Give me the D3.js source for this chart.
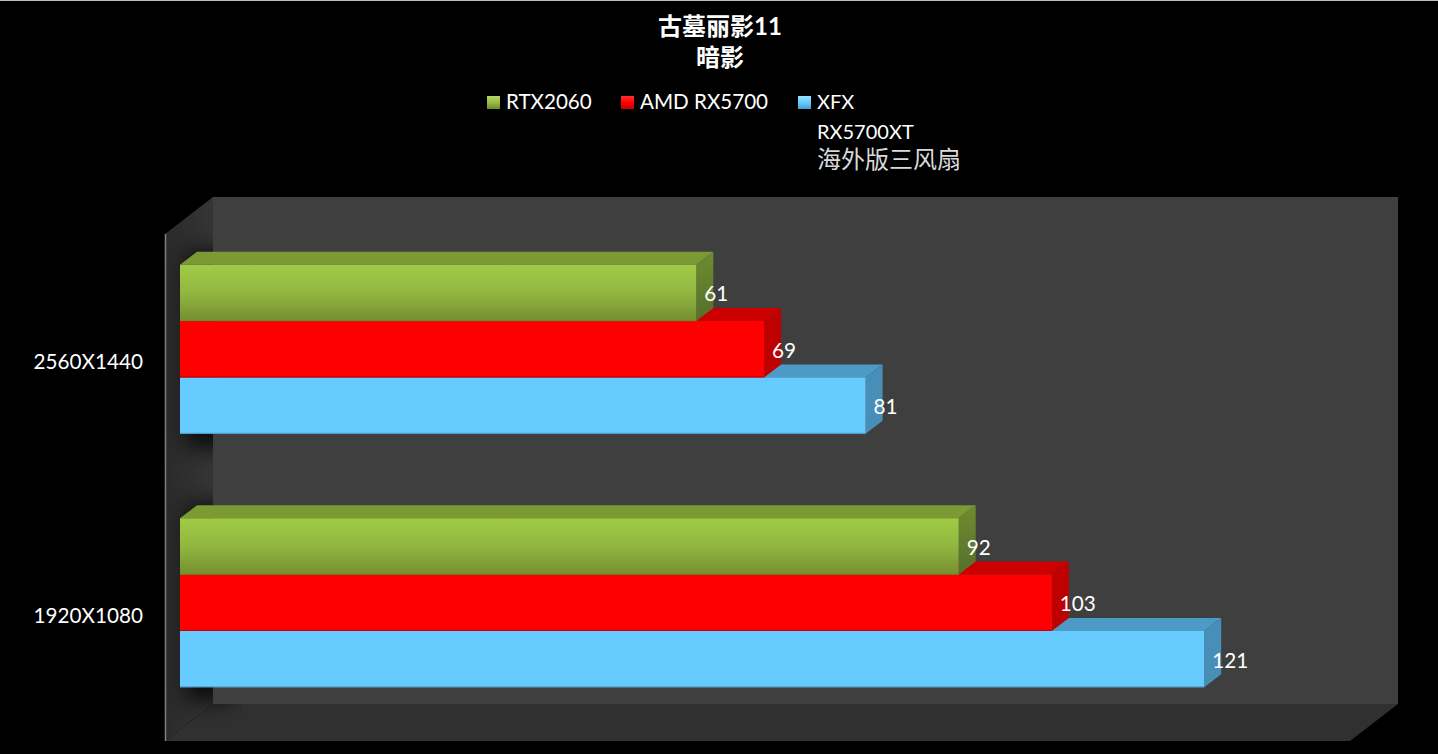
<!DOCTYPE html>
<html>
<head>
<meta charset="utf-8">
<script src="https://d3js.org/d3.v7.min.js"></script>
<style>
  html, body { margin: 0; padding: 0; background: #000; overflow: hidden; }
  svg { display: block; font-family: Lato, "Noto Sans CJK SC", sans-serif; }
</style>
</head>
<body>
<div id="chart"></div>
<script>
const titleLines = ["古墓丽影11", "暗影"];
const categories = ["2560X1440", "1920X1080"];
const seriesNames = ["RTX2060", "AMD RX5700", "XFX RX5700XT 海外版三风扇"];
const rtx2060 = [61, 92];
const rx5700 = [69, 103];
const xfx5700xt = [81, 121];

const width = 1438;
const height = 754;
const depthX = 48, depthY = 37;   // depth of the whole box
const barDX = 17, barDY = 13;     // depth of one bar

// front plane of the box, bars sit a bit behind it
const wallLeft = 165, wallTop = 234, wallBottom = 741, wallWidth = 1185;
const barShiftX = 15, barShiftY = 11.5;

const x = d3.scaleLinear().domain([0, 140])
  .range([wallLeft + barShiftX, wallLeft + barShiftX + wallWidth]);
const y = d3.scaleBand().domain(categories)
  .range([wallTop - barShiftY, wallBottom - barShiftY]);
const inner = d3.scaleBand().domain(seriesNames)
  .range([0, y.bandwidth()]).paddingOuter(0.75).paddingInner(0);

const styles = {
  [seriesNames[0]]: { top: "#7b9a34", side: "url(#greenSide)", front: "url(#greenFront)", key: "url(#greenKey)", edge: "#6f8a2c" },
  [seriesNames[1]]: { top: "#cc0000", side: "#bf0000", front: "#ff0000", key: "url(#redKey)", edge: "#c00000" },
  [seriesNames[2]]: { top: "#4d9ac6", side: "#478eb8", front: "#66ccff", key: "url(#blueKey)", edge: "#4f9fcb" }
};

const svg = d3.select("#chart").append("svg")
  .attr("width", width)
  .attr("height", height);

const defs = svg.append("defs");

function gradient(id, stops, vertical = true) {
  const g = defs.append("linearGradient").attr("id", id)
    .attr("x1", 0).attr("y1", 0)
    .attr("x2", vertical ? 0 : 1).attr("y2", vertical ? 1 : 0);
  stops.forEach(s => g.append("stop").attr("offset", s[0]).attr("stop-color", s[1]));
}
gradient("greenFront", [[0, "#a0cb46"], [0.5, "#92b640"], [1, "#748f30"]]);
gradient("greenSide", [[0, "#6f8c30"], [1, "#55702a"]]);
gradient("greenKey", [[0, "#b4d860"], [0.5, "#9abb45"], [1, "#6f8a2c"]]);
gradient("redKey", [[0, "#ff3030"], [0.5, "#ff0000"], [1, "#c00000"]]);
gradient("blueKey", [[0, "#9adfff"], [0.5, "#66ccff"], [1, "#4a9ccc"]]);
gradient("leftWall", [[0, "#2a2a2a"], [1, "#353535"]], false);

defs.append("filter").attr("id", "blur")
  .attr("x", "-50%").attr("y", "-50%").attr("width", "200%").attr("height", "200%")
  .append("feGaussianBlur").attr("stdDeviation", 11);

defs.append("clipPath").attr("id", "sideClip")
  .append("path")
  .attr("d", `M${wallLeft},${wallTop}L${wallLeft + depthX},${wallTop - depthY}V${wallBottom - depthY}H${wallLeft + depthX + 30}L${wallLeft + depthX + 30},${wallBottom}H${wallLeft}Z`);

// thin light line on the top edge of the picture
svg.append("rect").attr("width", width).attr("height", 1).attr("fill", "#bdbdbd");

// box: back wall, left wall, floor
svg.append("path")
  .attr("d", `M${wallLeft + depthX},${wallTop - depthY}h${wallWidth}V${wallBottom - depthY}H${wallLeft + depthX}Z`)
  .attr("fill", "#3f3f3f");
svg.append("path")
  .attr("d", `M${wallLeft},${wallTop}L${wallLeft + depthX},${wallTop - depthY}V${wallBottom - depthY}L${wallLeft},${wallBottom}Z`)
  .attr("fill", "url(#leftWall)");
svg.append("path")
  .attr("d", `M${wallLeft},${wallBottom}L${wallLeft + depthX},${wallBottom - depthY}h${wallWidth}L${wallLeft + wallWidth},${wallBottom}Z`)
  .attr("fill", "#303030");
svg.append("line")
  .attr("x1", wallLeft + 0.5).attr("x2", wallLeft + 0.5)
  .attr("y1", wallTop).attr("y2", wallBottom)
  .attr("stroke", "#808080").attr("stroke-width", 1.5);

// soft shadow the bars throw on the left wall
svg.append("g").attr("clip-path", "url(#sideClip)")
  .selectAll("rect")
  .data(categories)
  .enter().append("rect")
  .attr("x", x(0) + 6)
  .attr("y", d => y(d) + inner(seriesNames[0]) - 14)
  .attr("width", depthX)
  .attr("height", inner.bandwidth() * 3 + 28)
  .attr("fill", "#000")
  .attr("fill-opacity", 0.8)
  .attr("filter", "url(#blur)");

const seriesData = seriesNames.map((name, i) => ({
  name,
  values: [rtx2060, rx5700, xfx5700xt][i].map((v, j) => ({ category: categories[j], value: v }))
}));

// lower bars first so the upper ones overlap their top faces
const groups = svg.append("g").selectAll("g")
  .data(seriesData.slice().reverse())
  .enter().append("g");

const bars = groups.selectAll("g")
  .data(d => d.values.map(v => ({ ...v, name: d.name })))
  .enter().append("g");

const barTop = d => y(d.category) + inner(d.name);

bars.append("path")
  .attr("d", d => `M${x(0)},${barTop(d)}l${barDX},${-barDY}H${x(d.value) + barDX}l${-barDX},${barDY}Z`)
  .attr("fill", d => styles[d.name].top);
bars.append("path")
  .attr("d", d => `M${x(d.value)},${barTop(d)}l${barDX},${-barDY}v${inner.bandwidth()}l${-barDX},${barDY}Z`)
  .attr("fill", d => styles[d.name].side);
bars.append("rect")
  .attr("x", x(0))
  .attr("y", barTop)
  .attr("width", d => x(d.value) - x(0))
  .attr("height", inner.bandwidth())
  .attr("fill", d => styles[d.name].front);
bars.append("line")
  .attr("x1", x(0))
  .attr("x2", d => x(d.value))
  .attr("y1", d => barTop(d) + inner.bandwidth() - 0.5)
  .attr("y2", d => barTop(d) + inner.bandwidth() - 0.5)
  .attr("stroke", d => styles[d.name].edge);

// value labels
bars.append("text")
  .attr("x", d => x(d.value) + 8)
  .attr("y", d => barTop(d) + inner.bandwidth() / 2 + 8.5)
  .attr("fill", "#fff")
  .attr("font-size", 20.7)
  .text(d => d.value);

// category labels
svg.append("g").selectAll("text")
  .data(categories)
  .enter().append("text")
  .attr("x", 143)
  .attr("y", d => y(d) + y.bandwidth() / 2 + 20)
  .attr("text-anchor", "end")
  .attr("fill", "#fff")
  .attr("font-size", 20.7)
  .text(d => d);

// title
svg.append("g").selectAll("text")
  .data(titleLines)
  .enter().append("text")
  .attr("x", 720)
  .attr("y", (d, i) => 34.5 + i * 31)
  .attr("text-anchor", "middle")
  .attr("fill", "#fff")
  .attr("font-size", 24)
  .attr("font-weight", 700)
  .text(d => d);

// legend
const legendX = [487, 621, 798];
const legend = svg.append("g").selectAll("g")
  .data(seriesNames)
  .enter().append("g")
  .attr("transform", (d, i) => `translate(${legendX[i]},96)`);

legend.append("rect")
  .attr("width", 13).attr("height", 13)
  .attr("fill", d => styles[d].key);

const isCjk = d => /[\u4e00-\u9fff]/.test(d);

legend.append("text")
  .attr("fill", "#fff")
  .selectAll("tspan")
  .data(d => {
    const parts = d.split(" ");
    return parts.length > 2 ? parts : [d];
  })
  .enter().append("tspan")
  .attr("x", 19)
  .attr("y", (d, i) => 13 + i * 29.5)
  .attr("font-size", d => isCjk(d) ? 24 : (d.startsWith("X") || d === "RX5700XT") ? 20 : 20.6)
  .attr("fill", d => isCjk(d) ? "#d9d9d9" : "#fff")
  .text(d => d);
</script>
</body>
</html>
